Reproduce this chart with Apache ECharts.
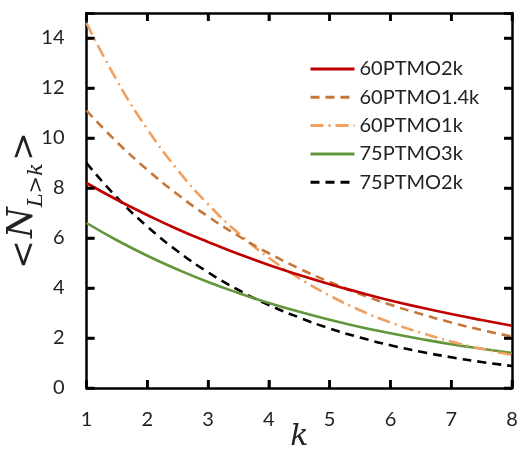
<!DOCTYPE html>
<html>
<head>
<meta charset="utf-8">
<script src="https://cdn.jsdelivr.net/npm/echarts@6/dist/echarts.min.js"></script>
<style>
  html, body { margin: 0; padding: 0; background: #fff; }
  #chart { width: 519px; height: 450px; }
</style>
</head>
<body>
<div id="chart"></div>
<script>
// sample points along k (step 0.5)
const kValues = [1, 1.5, 2, 2.5, 3, 3.5, 4, 4.5, 5, 5.5, 6, 6.5, 7, 7.5, 8];

const seriesNames = ['60PTMO2k', '60PTMO1.4k', '60PTMO1k', '75PTMO3k', '75PTMO2k'];

const ptmo60_2k   = [8.20, 7.53, 6.92, 6.35, 5.84, 5.36, 4.92, 4.52, 4.15, 3.82, 3.50, 3.22, 2.96, 2.72, 2.49];
const ptmo60_1_4k = [11.1, 9.84, 8.73, 7.74, 6.86, 6.08, 5.39, 4.78, 4.24, 3.76, 3.33, 2.96, 2.62, 2.32, 2.06];
const ptmo60_1k   = [14.6, 12.30, 10.36, 8.72, 7.35, 6.19, 5.21, 4.39, 3.70, 3.11, 2.62, 2.21, 1.86, 1.57, 1.32];
const ptmo75_3k   = [6.60, 5.91, 5.29, 4.74, 4.24, 3.80, 3.40, 3.05, 2.73, 2.44, 2.19, 1.96, 1.75, 1.57, 1.40];
const ptmo75_2k   = [9.00, 7.62, 6.46, 5.47, 4.63, 3.92, 3.32, 2.82, 2.38, 2.02, 1.71, 1.45, 1.23, 1.04, 0.88];

const xTicks = [1, 2, 3, 4, 5, 6, 7, 8];
const yTicks = [0, 2, 4, 6, 8, 10, 12, 14];
const yMax = 15;

const valuesList = [ptmo60_2k, ptmo60_1_4k, ptmo60_1k, ptmo75_3k, ptmo75_2k];
const colors = ['#C00000', '#C5773A', '#F0A060', '#62963A', '#000000'];
const dashes = ['solid', [9, 6], [13, 5, 2, 5], 'solid', [9, 6]];

const labelFont = 'Lato';

function pairs(values) {
  return kValues.map((k, i) => [k, values[i]]);
}

const series = seriesNames.map((name, i) => ({
  name: name,
  type: 'line',
  xAxisIndex: 0,
  yAxisIndex: 0,
  data: pairs(valuesList[i]),
  smooth: true,
  symbol: 'none',
  lineStyle: { color: colors[i], width: 2.6, type: dashes[i] },
  itemStyle: { color: colors[i] },
  z: 10 - i
}));

function frameLine() {
  return { show: true, onZero: false, lineStyle: { color: '#000', width: 2.5 } };
}
function innerTicks() {
  return { show: true, inside: true, length: 8, lineStyle: { color: '#000', width: 2.5 } };
}

const option = {
  animation: false,
  backgroundColor: '#fff',
  grid: {
    left: 86.5, right: 7, top: 13, bottom: 62,
    containLabel: false, outerBoundsMode: 'none'
  },
  legend: {
    orient: 'vertical',
    left: 304,
    top: 54,
    itemWidth: 44,
    itemHeight: 14,
    itemGap: 8.3,
    data: seriesNames,
    itemStyle: { opacity: 0 },
    lineStyle: { width: 3 },
    textStyle: { fontFamily: labelFont, fontSize: 20, color: '#222' }
  },
  xAxis: [
    {
      type: 'value',
      min: xTicks[0],
      max: xTicks[xTicks.length - 1],
      interval: 1,
      axisLine: frameLine(),
      axisTick: innerTicks(),
      splitLine: { show: false },
      axisLabel: { fontFamily: labelFont, fontSize: 20, color: '#222', margin: 22 },
      name: 'k',
      nameLocation: 'middle',
      nameGap: 34,
      nameMoveOverlap: false,
      nameTextStyle: { fontFamily: 'DejaVu Serif', fontStyle: 'italic', fontSize: 30, color: '#222' }
    },
    {
      type: 'value',
      min: xTicks[0],
      max: xTicks[xTicks.length - 1],
      interval: 1,
      position: 'top',
      axisLine: frameLine(),
      axisTick: innerTicks(),
      splitLine: { show: false },
      axisLabel: { show: false }
    }
  ],
  yAxis: [
    {
      type: 'value',
      min: yTicks[0],
      max: yMax,
      interval: 2,
      axisLine: frameLine(),
      axisTick: innerTicks(),
      splitLine: { show: false },
      axisLabel: {
        fontFamily: labelFont, fontSize: 20, color: '#222', margin: 22,
        formatter: v => (yTicks.indexOf(v) >= 0 ? String(v) : '')
      },
      name: '{br|<}{sp| }{n|N}{s|L>k}{sp| }{br|>}',
      nameLocation: 'middle',
      nameGap: 39,
      nameMoveOverlap: false,
      nameTextStyle: {
        color: '#222',
        rich: {
          br: { fontFamily: 'DejaVu Serif', fontSize: 34, color: '#222', verticalAlign: 'bottom', padding: [0, 0, 5, 0] },
          sp: { fontSize: 8 },
          n: { fontFamily: 'DejaVu Serif', fontStyle: 'italic', fontSize: 35, color: '#222', verticalAlign: 'bottom', padding: [0, 0, 7, 0] },
          s: { fontFamily: 'DejaVu Serif', fontStyle: 'italic', fontSize: 21, color: '#222', verticalAlign: 'bottom' }
        }
      }
    },
    {
      type: 'value',
      min: yTicks[0],
      max: yMax,
      interval: 2,
      position: 'right',
      axisLine: frameLine(),
      axisTick: innerTicks(),
      splitLine: { show: false },
      axisLabel: { show: false }
    }
  ],
  series: series
};

const chart = echarts.init(document.getElementById('chart'), null, { renderer: 'canvas' });
chart.setOption(option);

// inward tick marks on all four sides of the frame, placed through the axis scales
const tickLen = 8;
const xLeft = chart.convertToPixel({ xAxisIndex: 0 }, xTicks[0]);
const xRight = chart.convertToPixel({ xAxisIndex: 0 }, xTicks[xTicks.length - 1]);
const yBottom = chart.convertToPixel({ yAxisIndex: 0 }, yTicks[0]);
const yTop = chart.convertToPixel({ yAxisIndex: 0 }, yMax);
const tickStyle = { stroke: '#000', lineWidth: 2.5 };
const tickMarks = [];
xTicks.forEach(v => {
  const px = chart.convertToPixel({ xAxisIndex: 0 }, v);
  tickMarks.push({ type: 'line', z: 100, silent: true, shape: { x1: px, y1: yBottom, x2: px, y2: yBottom - tickLen }, style: tickStyle });
  tickMarks.push({ type: 'line', z: 100, silent: true, shape: { x1: px, y1: yTop, x2: px, y2: yTop + tickLen }, style: tickStyle });
});
yTicks.forEach(v => {
  const py = chart.convertToPixel({ yAxisIndex: 0 }, v);
  tickMarks.push({ type: 'line', z: 100, silent: true, shape: { x1: xLeft, y1: py, x2: xLeft + tickLen, y2: py }, style: tickStyle });
  tickMarks.push({ type: 'line', z: 100, silent: true, shape: { x1: xRight, y1: py, x2: xRight - tickLen, y2: py }, style: tickStyle });
});
chart.setOption({ graphic: tickMarks });
</script>
</body>
</html>
